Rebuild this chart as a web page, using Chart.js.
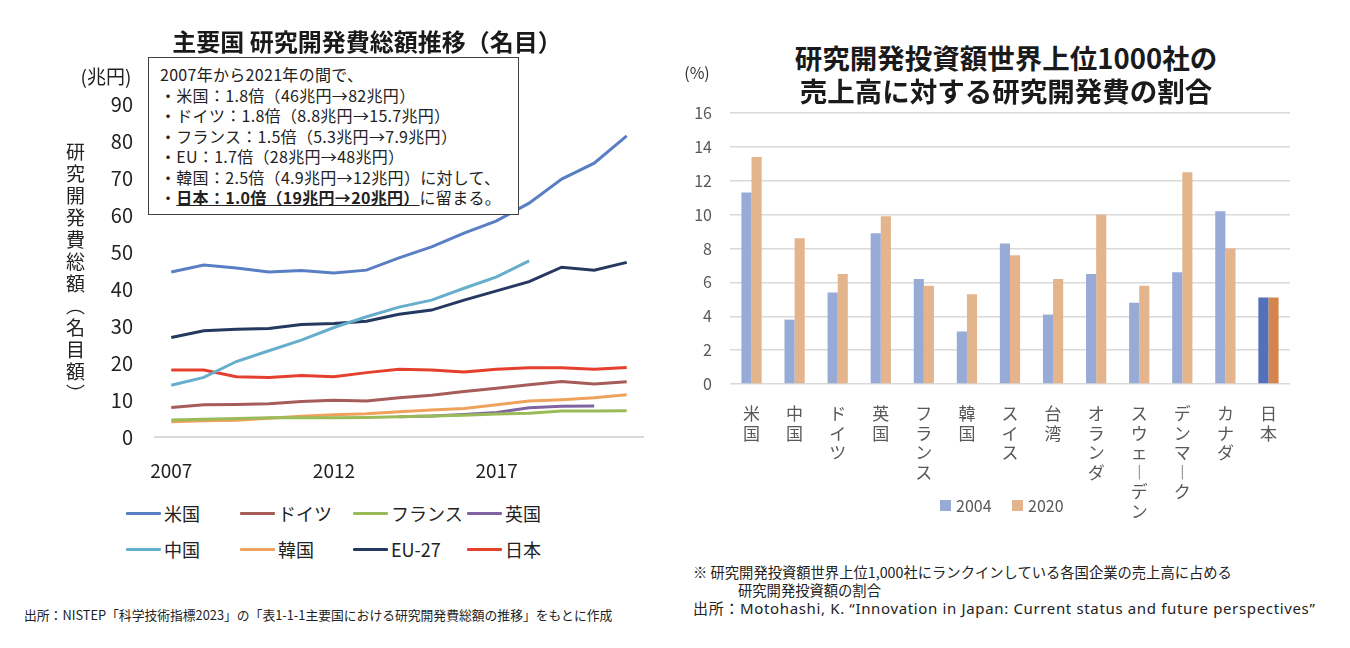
<!DOCTYPE html>
<html lang="ja">
<head>
<meta charset="utf-8">
<title>研究開発費の推移と売上高比率</title>
<script src="https://cdn.jsdelivr.net/npm/chart.js@4.4.1/dist/chart.umd.min.js"></script>
<style>
  body { margin: 0; background: #fff; font-family: "Noto Sans CJK JP", "Noto Sans", sans-serif; color: #222; }
  #page { position: relative; width: 1350px; height: 648px; overflow: hidden; }
  canvas { position: absolute; }
  .txt { position: absolute; white-space: nowrap; }
  .mid { transform: translate(-50%, -50%); }
  .title { font-weight: bold; color: #1a1a1a; }
  #memo {
    position: absolute; left: 148px; top: 57px; width: 358px; height: 150px;
    border: 1px solid #404040; background: #fff;
    padding: 6px 0 0 11px; font-size: 16px; letter-spacing: 0.3px; line-height: 20.5px; color: #222;
  }
  #memo b { text-decoration: underline; }
  #yTitle {
    position: absolute; left: 62px; top: 142px; writing-mode: vertical-rl;
    font-size: 19px; letter-spacing: 3px; color: #222;
  }
  .leg-item { position: absolute; display: flex; align-items: center; font-size: 18px; color: #222; transform: translateY(-50%); }
  .leg-line { display: inline-block; width: 35px; height: 3px; margin-right: 3px; border-radius: 1px; }
  .leg-box { display: inline-block; width: 11px; height: 11px; margin-right: 5px; }
  .note { font-size: 14.3px; color: #222; }
</style>
</head>
<body>
<div id="page">
  <canvas id="lineChart" width="660" height="490" style="left:0;top:0"></canvas>
  <canvas id="barChart" width="650" height="455" style="left:670px;top:85px"></canvas>

  <div class="txt mid title" style="left:367px;top:40px;font-size:24px">主要国 研究開発費総額推移（名目）</div>
  <div class="txt mid" style="left:106px;top:75px;font-size:19px">(兆円)</div>
  <div id="yTitle">研究開発費総額（名目額）</div>
  <div id="memo">
    2007年から2021年の間で、<br>
    ・米国：1.8倍（46兆円→82兆円）<br>
    ・ドイツ：1.8倍（8.8兆円→15.7兆円）<br>
    ・フランス：1.5倍（5.3兆円→7.9兆円）<br>
    ・EU：1.7倍（28兆円→48兆円）<br>
    ・韓国：2.5倍（4.9兆円→12兆円）に対して、<br>
    ・<b>日本：1.0倍（19兆円→20兆円）</b>に留まる。
  </div>
  <div id="lineLegend"></div>

  <div class="txt mid title" style="left:1006px;top:57px;font-size:27.5px">研究開発投資額世界上位1000社の</div>
  <div class="txt mid title" style="left:1006px;top:90px;font-size:27.5px">売上高に対する研究開発費の割合</div>
  <div class="txt mid" style="left:697px;top:72px;font-size:16px;color:#333">(%)</div>
  <div id="barLegend"></div>

  <div class="txt note" style="left:24px;top:605px;font-size:12.8px">出所：NISTEP「科学技術指標2023」の「表1-1-1主要国における研究開発費総額の推移」をもとに作成</div>
  <div class="txt note" style="left:693px;top:561px">※ 研究開発投資額世界上位1,000社にランクインしている各国企業の売上高に占める</div>
  <div class="txt note" style="left:738px;top:579px">研究開発投資額の割合</div>
  <div class="txt note" style="left:693px;top:597px;font-size:15px;letter-spacing:0.65px;font-family:'Noto Sans','Noto Sans CJK JP',sans-serif">出所：Motohashi, K. “Innovation in Japan: Current status and future perspectives”</div>
</div>

<script>
// 左: 主要国の研究開発費総額（兆円, 名目）
const years = ["2007", "2008", "2009", "2010", "2011", "2012", "2013", "2014",
  "2015", "2016", "2017", "2018", "2019", "2020", "2021"];
const usa = [44.6, 46.5, 45.7, 44.6, 45.0, 44.3, 45.1, 48.4, 51.4, 55.1, 58.4, 63.2, 69.7, 74.0, 81.4];
const germany = [8.0, 8.7, 8.8, 9.0, 9.6, 9.9, 9.7, 10.6, 11.3, 12.3, 13.2, 14.1, 15.0, 14.3, 14.9];
const france = [4.6, 4.8, 5.0, 5.2, 5.2, 5.2, 5.3, 5.5, 5.7, 5.9, 6.2, 6.4, 7.0, 7.0, 7.1];
const uk = [null, null, null, null, null, null, null, 5.5, 5.7, 6.1, 6.6, 7.9, 8.3, 8.4, null];
const china = [14.0, 16.1, 20.4, 23.3, 26.2, 29.6, 32.5, 35.1, 37.0, 40.2, 43.3, 47.6, null, null, null];
const korea = [4.1, 4.4, 4.5, 5.1, 5.6, 6.0, 6.3, 6.8, 7.3, 7.7, 8.7, 9.7, 10.1, 10.6, 11.4];
const eu27 = [26.9, 28.7, 29.1, 29.3, 30.4, 30.7, 31.3, 33.2, 34.3, 37.0, 39.5, 42.0, 45.9, 45.1, 47.2];
const japan = [18.1, 18.1, 16.3, 16.1, 16.6, 16.3, 17.4, 18.3, 18.1, 17.6, 18.3, 18.7, 18.7, 18.3, 18.8];

// 右: 売上高に対する研究開発費の割合（%）
const countries = ["米国", "中国", "ドイツ", "英国", "フランス", "韓国", "スイス", "台湾",
  "オランダ", "スウェーデン", "デンマーク", "カナダ", "日本"];
const share2004 = [11.3, 3.8, 5.4, 8.9, 6.2, 3.1, 8.3, 4.1, 6.5, 4.8, 6.6, 10.2, 5.1];
const share2020 = [13.4, 8.6, 6.5, 9.9, 5.8, 5.3, 7.6, 6.2, 10.0, 5.8, 12.5, 8.0, 5.1];

Chart.defaults.font.family = '"Noto Sans CJK JP", "Noto Sans", sans-serif';

const lineSeries = [
  { label: "米国", data: usa, color: "#5A7EC4" },
  { label: "ドイツ", data: germany, color: "#A65C58" },
  { label: "フランス", data: france, color: "#9BBB59" },
  { label: "英国", data: uk, color: "#8064A2" },
  { label: "中国", data: china, color: "#66AECB" },
  { label: "韓国", data: korea, color: "#EFA25C" },
  { label: "EU-27", data: eu27, color: "#25385F" },
  { label: "日本", data: japan, color: "#E5402E" },
];

new Chart(document.getElementById("lineChart"), {
  type: "line",
  data: {
    labels: years,
    datasets: lineSeries.map((s) => ({
      label: s.label,
      data: s.data,
      borderColor: s.color,
      backgroundColor: s.color,
    })),
  },
  options: {
    responsive: false,
    animation: false,
    layout: { padding: { left: 100, right: 17, top: 104, bottom: 0 } },
    plugins: { legend: { display: false }, tooltip: { enabled: false } },
    elements: { point: { radius: 0 }, line: { borderWidth: 3, tension: 0 } },
    scales: {
      x: {
        offset: true,
        grid: { display: false, drawTicks: false },
        border: { color: "#d9d9d9", width: 2 },
        ticks: {
          autoSkip: false,
          maxRotation: 0,
          padding: 22,
          color: "#222",
          font: { size: 19 },
          callback: (v, i) => (i % 5 === 0 ? years[i] : ""),
        },
        afterFit: (s) => { s.height = 53; },
      },
      y: {
        min: 0,
        max: 90,
        grid: { display: false, drawTicks: false },
        border: { display: false },
        ticks: { stepSize: 10, padding: 22, color: "#222", font: { size: 20 } },
        afterFit: (s) => { s.width = 55; },
      },
    },
  },
});

// 凡例（4列×2行）
const legCols = [126, 240, 353, 467];
const legRows = [513, 549];
document.getElementById("lineLegend").innerHTML = lineSeries
  .map(
    (s, i) => `
      <div class="leg-item" style="left:${legCols[i % 4]}px;top:${legRows[Math.floor(i / 4)]}px">
        <span class="leg-line" style="background:${s.color}"></span>${s.label}
      </div>`
  )
  .join("");

// 縦書きラベル（長音符は縦向きに）
function verticalText(name) {
  return name.split("").map((ch) => (ch === "ー" ? "︱" : ch));
}

const barColors = {
  b2004: "#98AAD6",
  b2020: "#E4B48C",
  jp2004: "#5470B8",
  jp2020: "#D4854C",
};

new Chart(document.getElementById("barChart"), {
  type: "bar",
  data: {
    labels: countries,
    datasets: [
      {
        label: "2004",
        data: share2004,
        backgroundColor: countries.map((c) => (c === "日本" ? barColors.jp2004 : barColors.b2004)),
      },
      {
        label: "2020",
        data: share2020,
        backgroundColor: countries.map((c) => (c === "日本" ? barColors.jp2020 : barColors.b2020)),
      },
    ],
  },
  options: {
    responsive: false,
    animation: false,
    // 上端は目盛りラベル分の余白（約28px）で決まる
    layout: { padding: { left: 0, right: 30, top: 28, bottom: 0 } },
    datasets: { bar: { categoryPercentage: 0.47, barPercentage: 1 } },
    plugins: { legend: { display: false }, tooltip: { enabled: false } },
    scales: {
      x: {
        grid: { display: false, drawTicks: false },
        border: { display: false },
        ticks: {
          autoSkip: false,
          maxRotation: 0,
          minRotation: 0,
          padding: 20,
          color: "#595959",
          font: { size: 17, lineHeight: 1.15 },
          callback: (v, i) => verticalText(countries[i]),
        },
        afterFit: (s) => { s.height = 156; },
      },
      y: {
        min: 0,
        max: 16,
        grid: { color: "#d9d9d9", lineWidth: 1.5, drawTicks: false },
        border: { display: false },
        ticks: { stepSize: 2, padding: 18, color: "#595959", font: { size: 16 } },
        afterFit: (s) => { s.width = 60; },
      },
    },
  },
});

document.getElementById("barLegend").innerHTML = [
  { label: "2004", color: barColors.b2004, x: 940 },
  { label: "2020", color: barColors.b2020, x: 1012 },
]
  .map(
    (l) => `
      <div class="leg-item" style="left:${l.x}px;top:505px;font-size:16px;color:#595959">
        <span class="leg-box" style="background:${l.color}"></span>${l.label}
      </div>`
  )
  .join("");
</script>
</body>
</html>
